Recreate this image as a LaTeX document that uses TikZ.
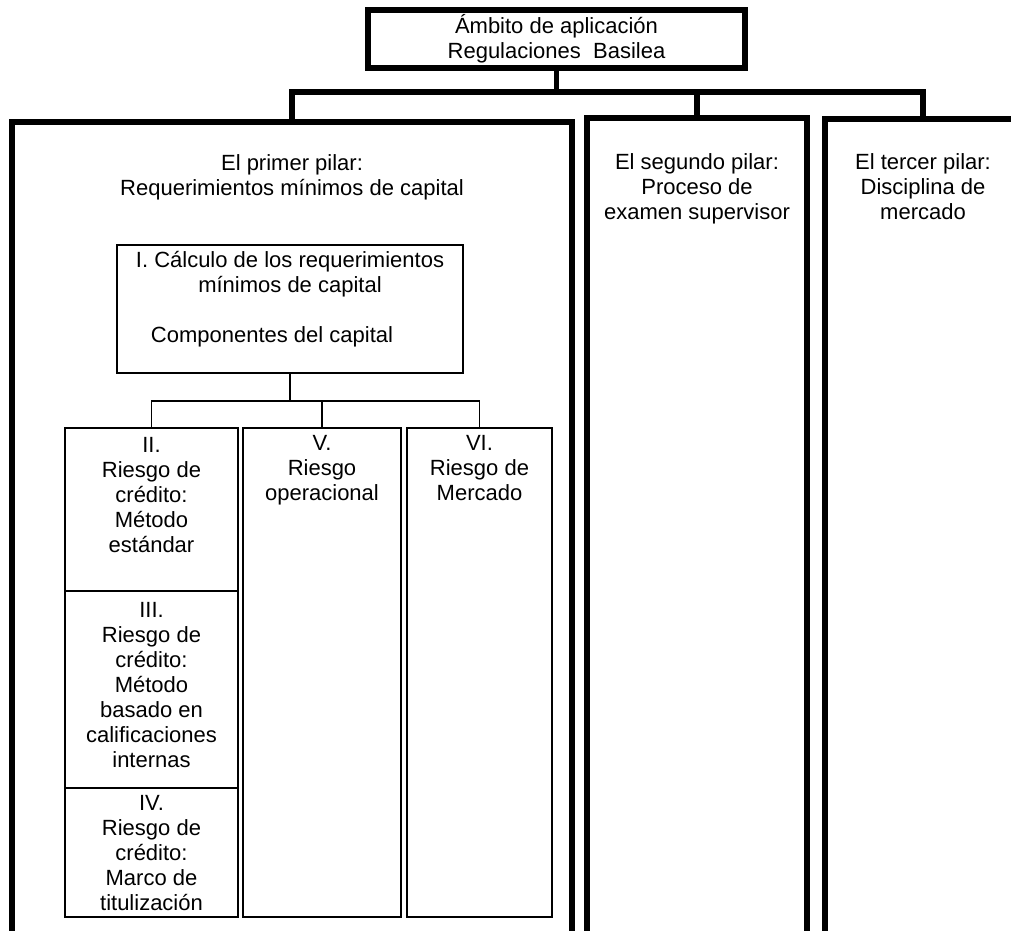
\documentclass[tikz,border=0pt]{standalone}
\usepackage{fontspec}
\setmainfont{Liberation Sans}
\usetikzlibrary{positioning}

\begin{document}
\begin{tikzpicture}[
          x=1pt, y=-1pt,
          every node/.style={inner sep=0pt, outer sep=0pt, align=center,
                             font=\fontsize{22}{25}\selectfont},
          marco/.style={draw, line width=5.5pt},
          caja/.style={draw, line width=1.3pt},
          tronco/.style={line width=5.5pt},
          rama/.style={line width=1.3pt}
        ]
        \useasboundingbox (0,0) rectangle (1011,930);
        \clip (0,0) rectangle (1011,930);
        \node[marco, minimum width=377pt, minimum height=58pt] (amb) at (556.5,39)
          {Ámbito de aplicación\\Regulaciones\ \ Basilea};
        \node[marco, minimum width=560pt, text height=73pt, text depth=765pt, anchor=north] (p1) at (292,122)
          {El primer pilar:\\Requerimientos mínimos de capital};
        \node[marco, minimum width=220pt, text height=101pt, text depth=741pt, anchor=north] (p2) at (697,118)
          {El segundo pilar:\\Proceso de\\examen supervisor};
        \node[marco, minimum width=196pt, text height=100pt, text depth=741pt, anchor=north] (p3) at (923,119)
          {El tercer pilar:\\Disciplina de\\mercado};
        \draw[tronco] (amb.south) -- ++(0,24) coordinate (nudo);
        \draw[tronco] (p1.north) |- (nudo) -| (p3.north);
        \draw[tronco] (p2.north) -- (p2.north |- nudo);
        \node[caja, minimum width=346pt, text height=97pt, text depth=31pt, anchor=north] (calc) at (290,245)
          {I. Cálculo de los requerimientos\\mínimos de capital\\[25pt]Componentes del capital\kern36pt};
        \node[caja, minimum width=173pt, text height=124pt, text depth=39pt, anchor=north] (c2) at (151.5,428)
          {II.\\Riesgo de\\crédito:\\Método\\estándar};
        \node[caja, minimum width=173pt, text height=176pt, text depth=21pt, below=0pt of c2] (c3)
          {III.\\Riesgo de\\crédito:\\Método\\basado en\\calificaciones\\internas};
        \node[caja, minimum width=173pt, text height=122pt, text depth=7pt, below=0pt of c3] (c4)
          {IV.\\Riesgo de\\crédito:\\Marco de\\titulización};
        \node[caja, minimum width=158pt, text height=72pt, text depth=417pt, right=5pt of c2.north east, anchor=north west] (c5)
          {V.\\Riesgo\\operacional};
        \node[caja, minimum width=145pt, text height=72pt, text depth=417pt, right=6pt of c5.north east, anchor=north west] (c6)
          {VI.\\Riesgo de\\Mercado};
        \draw[rama] (calc.south) -- ++(0,28) coordinate (horq);
        \draw[rama] (c2.north) |- (horq) -| (c6.north);
        \draw[rama] (c5.north) -- (c5.north |- horq);
      \end{tikzpicture}
\end{document}
